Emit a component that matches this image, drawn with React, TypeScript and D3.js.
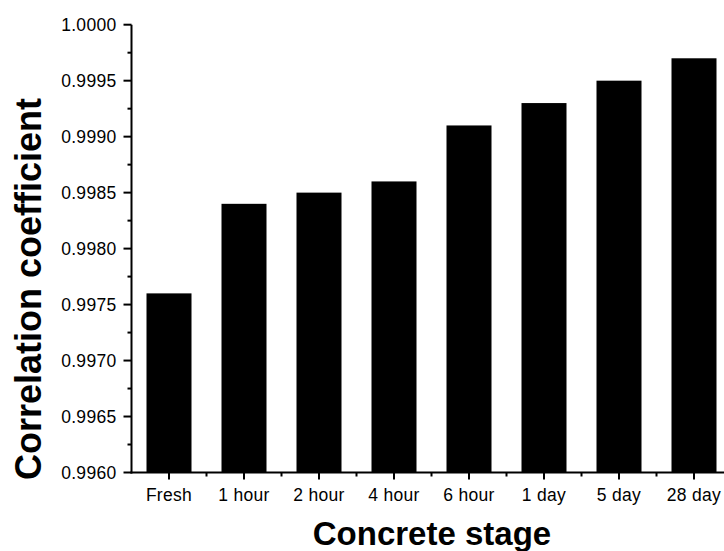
import React from "react";
import * as d3 from "d3";

const categories = ["Fresh", "1 hour", "2 hour", "4 hour", "6 hour", "1 day", "5 day", "28 day"];
const values = [0.9976, 0.9984, 0.9985, 0.9986, 0.9991, 0.9993, 0.9995, 0.9997];
const yTicks = [0.996, 0.9965, 0.997, 0.9975, 0.998, 0.9985, 0.999, 0.9995, 1.0];

const W = 724;
const H = 551;
const x0 = 131.5;
const yTop = 24.7;
const yBottom = 472.5;
const band = 75;

export default function App() {
  const x = d3
    .scaleBand<string>()
    .domain(categories)
    .range([x0, x0 + band * categories.length])
    .paddingInner(0.4)
    .paddingOuter(0.2);
  const y = d3.scaleLinear().domain([0.996, 1.0]).range([yBottom, yTop]);
  const minorY = d3.range(0, 8).map((i) => 0.996 + 0.0005 * i + 0.00025);
  const font = "Arial, 'Liberation Sans', sans-serif";
  const step = x.step();

  return (
    <svg
      width={W}
      height={H}
      style={{ position: "absolute", left: 0, top: 0, background: "#fff" }}
    >
      {categories.map((c, i) => (
        <rect
          key={c}
          x={x(c)}
          y={y(values[i])}
          width={x.bandwidth()}
          height={yBottom - y(values[i])}
          fill="#000"
        />
      ))}

      {/* y axis */}
      <line x1={x0} x2={x0} y1={yTop} y2={yBottom + 1} stroke="#000" strokeWidth={2} />
      {yTicks.map((t) => (
        <g key={t}>
          <line x1={x0 - 8} x2={x0} y1={y(t)} y2={y(t)} stroke="#000" strokeWidth={2} />
          <text
            x={x0 - 15}
            y={y(t)}
            dy="0.35em"
            textAnchor="end"
            fontFamily={font}
            fontSize={17.5}
            letterSpacing={0.3}
            fill="#000"
          >
            {d3.format(".4f")(t)}
          </text>
        </g>
      ))}
      {minorY.map((t) => (
        <line key={t} x1={x0 - 4} x2={x0} y1={y(t)} y2={y(t)} stroke="#000" strokeWidth={2} />
      ))}

      {/* x axis */}
      <line x1={x0 - 1} x2={W} y1={yBottom} y2={yBottom} stroke="#000" strokeWidth={2} />
      {categories.map((c) => {
        const cx = (x(c) as number) + x.bandwidth() / 2;
        return (
          <g key={c}>
            <line x1={cx} x2={cx} y1={yBottom} y2={yBottom + 7} stroke="#000" strokeWidth={2} />
            <text
              x={cx}
              y={501}
              textAnchor="middle"
              fontFamily={font}
              fontSize={17.5}
              letterSpacing={0.3}
              fill="#000"
            >
              {c}
            </text>
          </g>
        );
      })}
      {categories.slice(1).map((c, i) => {
        const mx = x0 + step * (i + 1);
        return (
          <line key={c} x1={mx} x2={mx} y1={yBottom} y2={yBottom + 4} stroke="#000" strokeWidth={2} />
        );
      })}

      <text
        x={432}
        y={545}
        textAnchor="middle"
        fontFamily={font}
        fontSize={33}
        fontWeight="bold"
        fill="#000"
      >
        Concrete stage
      </text>
      <text
        transform={`translate(41,289) rotate(-90)`}
        textAnchor="middle"
        fontFamily={font}
        fontSize={36}
        fontWeight="bold"
        fill="#000"
      >
        Correlation coefficient
      </text>
    </svg>
  );
}
